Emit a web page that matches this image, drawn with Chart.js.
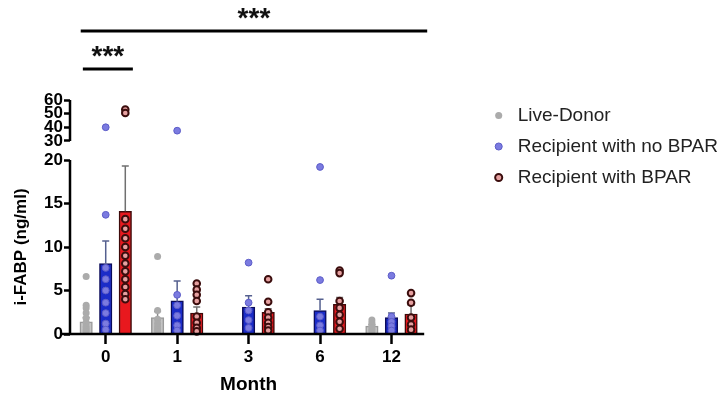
<!DOCTYPE html>
<html>
<head>
<meta charset="utf-8">
<script src="https://cdn.jsdelivr.net/npm/chart.js@4.4.1/dist/chart.umd.min.js"></script>
<style>
  html, body { margin: 0; padding: 0; background: #fff; }
</style>
</head>
<body>
<canvas id="chart" width="722" height="398"></canvas>
<script>
const months = ['0', '1', '3', '6', '12'];
const seriesNames = ['Live-Donor', 'Recipient with no BPAR', 'Recipient with BPAR'];

// bar heights (mean) and upward error (SEM) per month
const donorMean = [1.4, 1.9, null, null, 0.9];
const donorSem = [0.5, 0.7, null, null, 0.2];
const noBparMean = [8.1, 3.8, 3.1, 2.7, 1.9];
const noBparSem = [2.6, 2.3, 1.3, 1.3, 0.5];
const bparMean = [14.1, 2.4, 2.5, 3.4, 2.3];
const bparSem = [5.2, 0.7, 0.4, 0.8, 1.0];

// individual values per month
const donorPts = [
    [6.6, 3.3, 3.0, 2.4, 1.8, 1.3, 0.8, 0.5, 0.3],
    [8.9, 2.7, 1.7, 1.2, 0.8, 0.5, 0.3],
    [],
    [],
    [1.6, 1.3, 1.0, 0.7, 0.5, 0.3]
];
const noBparPts = [
    [40, 13.7, 7.6, 6.3, 5.0, 3.6, 2.4, 1.2, 0.5],
    [37.5, 4.5, 3.3, 2.1, 1.0, 0.4],
    [8.2, 3.6, 2.7, 1.6, 0.7],
    [19.2, 6.2, 2.0, 1.0, 0.4],
    [6.7, 2.0, 1.4, 0.9, 0.4]
];
const bparPts = [
    [53, 50.5, 13.2, 12.1, 11.0, 10.0, 9.0, 8.1, 7.2, 6.3, 5.4, 4.6, 4.0],
    [5.8, 5.1, 4.5, 3.8, 2.0, 1.3, 0.7, 0.3],
    [6.3, 3.7, 2.5, 1.9, 1.3, 0.8, 0.4],
    [7.3, 7.0, 3.8, 3.0, 2.2, 1.4, 0.6],
    [4.7, 3.6, 1.9, 1.1, 0.5]
];

const lowerTicks = [0, 5, 10, 15, 20];
const upperTicks = [30, 40, 50, 60];
const breakAt = 20;

const FONT = "'Liberation Sans', Arial, sans-serif";
const slot = 0.274;      // distance between bars of a group, in month slots
const barWidth = 12.5;

function points(list, offset, upper) {
    const out = [];
    list.forEach((vals, i) => vals.forEach(v => {
        if ((v > breakAt) === upper) out.push({ x: i + offset, y: v });
    }));
    return out;
}

const styles = [
    { bar: '#c4c4c4', barBorder: '#9a9a9a', err: '#8a8a8a', dot: '#ababab', dotBorder: '#ababab', dotWidth: 0, r: 3.5 },
    { bar: '#1b2cc8', barBorder: '#0c0c5a', err: '#55608f', dot: '#7b7be0', dotBorder: '#5c5cc8', dotWidth: 1, r: 3.4 },
    { bar: '#e8181e', barBorder: '#3d0a0a', err: '#707070', dot: '#e6a0a0', dotBorder: '#3b0d0d', dotWidth: 2, r: 3.3 }
];
const means = [donorMean, noBparMean, bparMean];
const sems = [donorSem, noBparSem, bparSem];
const ptsList = [donorPts, noBparPts, bparPts];

const datasets = [];
seriesNames.forEach((name, s) => {
    datasets.push({
        type: 'bar', label: name,
        data: means[s].map((v, i) => ({ x: i + (s - 1) * slot, y: v })),
        sem: sems[s], errColor: styles[s].err,
        backgroundColor: styles[s].bar, borderColor: styles[s].barBorder, borderWidth: 1.5,
        grouped: false, barThickness: barWidth,
        xAxisID: 'xLin', yAxisID: 'y', order: 2
    });
});
[false, true].forEach(upper => {
    seriesNames.forEach((name, s) => {
        datasets.push({
            type: 'scatter', label: name, inLegend: !upper,
            data: points(ptsList[s], (s - 1) * slot, upper),
            backgroundColor: styles[s].dot, borderColor: styles[s].dotBorder, borderWidth: styles[s].dotWidth,
            pointRadius: styles[s].r, pointStyle: 'circle', clip: false,
            xAxisID: 'xLin', yAxisID: upper ? 'yTop' : 'y', order: 1
        });
    });
});

const errorBars = {
    id: 'errorBars',
    afterDatasetDraw(chart, args) {
        const ds = chart.data.datasets[args.index];
        if (!ds.sem) return;
        const ctx = chart.ctx;
        const y = chart.scales.y;
        ctx.save();
        ctx.strokeStyle = ds.errColor;
        ctx.lineWidth = 1.5;
        args.meta.data.forEach((bar, i) => {
            if (ds.data[i].y == null) return;
            const top = y.getPixelForValue(ds.data[i].y + ds.sem[i]);
            ctx.beginPath();
            ctx.moveTo(bar.x, bar.y);
            ctx.lineTo(bar.x, top);
            ctx.moveTo(bar.x - 3.5, top);
            ctx.lineTo(bar.x + 3.5, top);
            ctx.stroke();
        });
        ctx.restore();
    }
};

const axisLines = {
    id: 'axisLines',
    afterDatasetsDraw(chart) {
        const { ctx, chartArea, scales } = chart;
        ctx.save();
        ctx.strokeStyle = '#000';
        ctx.lineWidth = 2.5;
        ctx.beginPath();
        ctx.moveTo(chartArea.left - 8, chartArea.bottom);
        ctx.lineTo(chartArea.right - 3, chartArea.bottom);
        const lx = chartArea.left;
        ctx.moveTo(lx, scales.y.getPixelForValue(lowerTicks[0]));
        ctx.lineTo(lx, scales.y.getPixelForValue(lowerTicks[lowerTicks.length - 1]));
        ctx.moveTo(lx, scales.yTop.getPixelForValue(upperTicks[0]));
        ctx.lineTo(lx, scales.yTop.getPixelForValue(upperTicks[upperTicks.length - 1]));
        ctx.stroke();
        ctx.restore();
    }
};

const significance = {
    id: 'significance',
    afterDraw(chart) {
        const { ctx, chartArea, scales: { x } } = chart;
        const w = x.width / months.length;
        const c0 = x.getPixelForValue(0);
        const cLast = x.getPixelForValue(months.length - 1);
        const bars = [
            { from: c0 - 0.35 * w, to: cLast + 0.5 * w, y: chartArea.top - 63 },
            { from: c0 - 0.32 * w, to: c0 + 0.38 * w, y: chartArea.top - 25 }
        ];
        ctx.save();
        ctx.strokeStyle = '#000';
        ctx.fillStyle = '#111';
        ctx.lineWidth = 3;
        ctx.font = 'bold 28px ' + FONT;
        ctx.textAlign = 'center';
        ctx.textBaseline = 'alphabetic';
        bars.forEach(b => {
            ctx.beginPath();
            ctx.moveTo(b.from, b.y);
            ctx.lineTo(b.to, b.y);
            ctx.stroke();
            ctx.fillText('***', (b.from + b.to) / 2, b.y - 4);
        });
        ctx.restore();
    }
};

const tickFont = { family: FONT, size: 17, weight: 'bold' };
const yGrid = { drawOnChartArea: false, drawTicks: true, tickLength: 6, tickWidth: 2.5, color: '#000' };

new Chart(document.getElementById('chart'), {
    type: 'bar',
    data: { labels: months, datasets: datasets },
    options: {
        responsive: false,
        animation: false,
        events: [],
        devicePixelRatio: 1,
        layout: { padding: { top: 94, left: 0, right: -6, bottom: 0 } },
        plugins: {
            tooltip: { enabled: false },
            legend: {
                position: 'right',
                align: 'start',
                fullSize: false,
                maxWidth: 320,
                labels: {
                    usePointStyle: true,
                    boxHeight: 5,
                    padding: 12,
                    color: '#222',
                    font: { family: FONT, size: 19 },
                    filter: (item, data) => data.datasets[item.datasetIndex].inLegend
                }
            }
        },
        scales: {
            x: {
                type: 'category',
                offset: true,
                grid: { display: true, drawOnChartArea: false, offset: false, tickLength: 10, tickWidth: 2.5, color: '#000' },
                border: { display: false },
                ticks: { font: tickFont, color: '#000', padding: 3 },
                title: { display: true, text: 'Month', color: '#000', font: { family: FONT, size: 19, weight: 'bold' }, padding: { top: 0, bottom: 2 } },
                afterFit: s => { s.height = 64; }
            },
            xLin: { type: 'linear', display: false, offset: false, min: -0.5, max: months.length - 0.5 },
            y: {
                type: 'linear', position: 'left', stack: 'left', stackWeight: 174,
                min: 0, max: 20,
                afterBuildTicks: s => { s.ticks = lowerTicks.map(v => ({ value: v })); },
                ticks: { autoSkip: false, font: tickFont, color: '#000', padding: 1 },
                grid: yGrid,
                border: { display: false },
                title: { display: true, text: 'i-FABP (ng/ml)', color: '#000', font: { family: FONT, size: 17, weight: 'bold' }, padding: { top: 11, bottom: 0 } },
                afterFit: s => { s.width = 70; }
            },
            yTop: {
                type: 'linear', position: 'left', stack: 'left', stackWeight: 66,
                min: 16, max: 64.4,
                afterBuildTicks: s => { s.ticks = upperTicks.map(v => ({ value: v })); },
                ticks: { autoSkip: false, font: tickFont, color: '#000', padding: 1 },
                grid: yGrid,
                border: { display: false },
                afterFit: s => { s.width = 70; }
            },
            gap: {
                type: 'linear', position: 'right', display: true,
                grid: { display: false }, ticks: { display: false }, border: { display: false },
                afterFit: s => { s.width = 50; }
            }
        }
    },
    plugins: [errorBars, axisLines, significance]
});
</script>
</body>
</html>
